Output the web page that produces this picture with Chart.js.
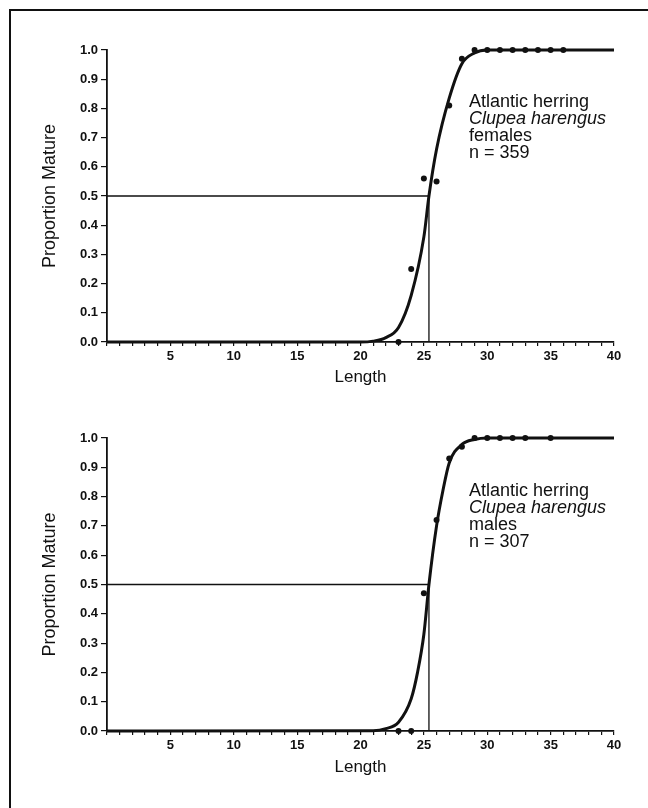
<!DOCTYPE html>
<html><head><meta charset="utf-8">
<script src="https://cdn.jsdelivr.net/npm/chart.js@4.4.1/dist/chart.umd.min.js"></script>
<style>
html,body{margin:0;padding:0;background:#fff;}
body{width:648px;height:808px;position:relative;overflow:hidden;font-family:"Liberation Sans",Arial,sans-serif;}
#frame{position:absolute;left:9px;top:9px;width:700px;height:900px;border-top:2px solid #111;border-left:2px solid #111;}
.c{position:absolute;left:0;width:648px;}
.note{position:absolute;left:469px;font-size:18px;line-height:17px;color:#111;white-space:nowrap;}
</style></head><body>
<div id="frame"></div>
<div class="c" style="top:0;height:400px"><canvas id="c1" width="648" height="400"></canvas></div>
<div class="c" style="top:400px;height:408px"><canvas id="c2" width="648" height="408"></canvas></div>
<div class="note" style="top:93px">Atlantic herring<br><i>Clupea harengus</i><br>females<br>n = 359</div>
<div class="note" style="top:482px">Atlantic herring<br><i>Clupea harengus</i><br>males<br>n = 307</div>
<script>
// Females: observed proportions
const femaleLength = [23, 24, 25, 26, 27, 28, 29, 30, 31, 32, 33, 34, 35, 36];
const femaleProp   = [0, 0.25, 0.56, 0.55, 0.81, 0.97, 1, 1, 1, 1, 1, 1, 1, 1];
// Females: fitted curve
const femaleCurveLength = [0, 20, 21, 22, 23, 24, 25, 25.4, 26, 27, 28, 29, 30, 40];
const femaleCurveProp   = [0, 0, 0.003, 0.015, 0.05, 0.16, 0.36, 0.5, 0.66, 0.835, 0.953, 0.99, 1, 1];
const femaleL50 = 25.4;

// Males: observed proportions
const maleLength = [23, 24, 25, 26, 27, 28, 29, 30, 31, 32, 33, 35];
const maleProp   = [0, 0, 0.47, 0.72, 0.93, 0.97, 1, 1, 1, 1, 1, 1];
// Males: fitted curve
const maleCurveLength = [0, 21, 22, 23, 24, 24.5, 25, 25.4, 26, 26.5, 27, 28, 29, 30, 40];
const maleCurveProp   = [0, 0.001, 0.008, 0.03, 0.11, 0.2, 0.33, 0.5, 0.7, 0.82, 0.915, 0.978, 0.995, 1, 1];
const maleL50 = 25.4;

// Axis ticks
const yTickLabels = ['0.0','0.1','0.2','0.3','0.4','0.5','0.6','0.7','0.8','0.9','1.0'];
const xTickLabels = ['5','10','15','20','25','30','35','40'];

const INK = '#111';
const FAM = '"Liberation Sans", Arial, sans-serif';
const tickFont = {family: FAM, size: 13, weight: 'bold'};

function pts(xs, ys) { return xs.map((x, i) => ({x: x, y: ys[i]})); }

function makeChart(id, curveX, curveY, ptX, ptY, l50, padTop, xAxisH, titlePadBottom) {
  new Chart(document.getElementById(id), {
    type: 'scatter',
    data: {
      datasets: [
        {
          type: 'line',
          data: [{x: 0, y: 0.5}, {x: l50, y: 0.5}, {x: l50, y: 0}],
          borderColor: INK, borderWidth: 1.3, pointRadius: 0, tension: 0, fill: false, clip: false
        },
        {
          type: 'line',
          data: pts(curveX, curveY),
          borderColor: INK, borderWidth: 3, pointRadius: 0,
          cubicInterpolationMode: 'monotone', fill: false, clip: false
        },
        {
          data: pts(ptX, ptY),
          backgroundColor: INK, borderColor: INK, pointRadius: 3, pointBorderWidth: 0, clip: false
        }
      ]
    },
    options: {
      responsive: false, animation: false, devicePixelRatio: 1,
      layout: {padding: {top: padTop, right: 34, bottom: 0, left: 0}},
      plugins: {legend: {display: false}, tooltip: {enabled: false}},
      scales: {
        x: {
          type: 'linear', min: 0, max: 40,
          afterFit: s => { s.height = xAxisH; },
          border: {display: true, color: INK, width: 1.8},
          grid: {drawOnChartArea: false, drawTicks: true, tickLength: 4, color: INK, tickColor: INK, lineWidth: 1.2},
          ticks: {
            stepSize: 1, autoSkip: false, maxRotation: 0, padding: 3, color: INK, font: tickFont,
            callback: v => { const s = String(v); return xTickLabels.includes(s) ? s : ''; }
          },
          title: {display: true, text: 'Length', color: INK, font: {family: FAM, size: 17}, padding: {top: 0, bottom: titlePadBottom}}
        },
        y: {
          type: 'linear', min: 0, max: 1,
          afterFit: s => { s.width = 107; },
          border: {display: true, color: INK, width: 1.8},
          grid: {drawOnChartArea: false, drawTicks: true, tickLength: 6, color: INK, tickColor: INK, lineWidth: 1.2},
          ticks: {
            stepSize: 0.1, autoSkip: false, padding: 3, color: INK, font: tickFont,
            callback: v => yTickLabels[Math.round(v * 10)]
          },
          title: {display: true, text: 'Proportion Mature', color: INK, font: {family: FAM, size: 18}, padding: {top: 39, bottom: 0}}
        }
      }
    }
  });
}

makeChart('c1', femaleCurveLength, femaleCurveProp, femaleLength, femaleProp, femaleL50, 50, 58, 12);
makeChart('c2', maleCurveLength, maleCurveProp, maleLength, maleProp, maleL50, 38, 77, 30);
</script>
</body></html>
